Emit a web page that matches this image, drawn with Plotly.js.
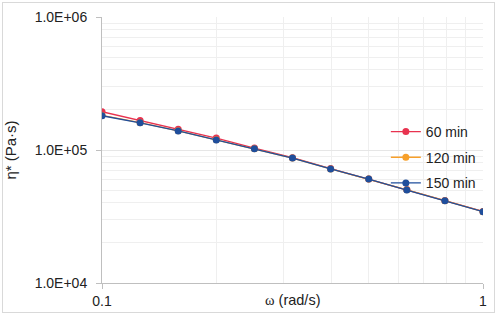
<!DOCTYPE html>
<html><head><meta charset="utf-8">
<script src="https://cdn.plot.ly/plotly-3.0.1.min.js"></script>
<style>html,body{margin:0;padding:0;background:#fff}#chart{width:497px;height:316px}
#frame{position:absolute;left:2px;top:2px;width:491px;height:309px;border:1px solid #d9d9d9;pointer-events:none}</style>
</head><body>
<div id="chart"></div><div id="frame"></div>
<script>
const omega = [0.1, 0.1259, 0.1585, 0.1995, 0.2512, 0.3162, 0.3981, 0.5012, 0.631, 0.7943, 1.0];
const eta60  = [194000, 167000, 143000, 123000, 103500, 87500, 72500, 60500, 50500, 41700, 34500];
const eta120 = [182000, 160500, 139500, 119500, 102000, 87000, 72000, 60500, 50200, 41600, 34400];
const eta150 = [181000, 160000, 139000, 119000, 102000, 87000, 72000, 60500, 50000, 41600, 34400];
const seriesNames = ['60 min', '120 min', '150 min'];
const yTickVals = [1e4, 1e5, 1e6];
const yTickText = ['1.0E+04', '1.0E+05', '1.0E+06'];
const xTickVals = [0.1, 1];
const xTickText = ['0.1', '1'];

const colors = ['#e8334f', '#f7a02b', '#1f4e9c'];
const data = [eta60, eta120, eta150].map((y, i) => ({
  x: omega, y: y, name: seriesNames[i], type: 'scatter', mode: 'lines+markers',
  legendgroup: 'g' + i,
  line: {color: colors[i], width: 1.3}, marker: {color: colors[i], size: 7}
}));
const yMinor = [], xMinor = [];
for (let e = 4; e < 6; e++) for (let m = 2; m <= 9; m++) yMinor.push(m * Math.pow(10, e));
for (let m = 2; m <= 9; m++) xMinor.push(m / 10);

const layout = {
  width: 497, height: 316,
  margin: {l: 102, r: 14, t: 17, b: 33},
  paper_bgcolor: 'rgba(0,0,0,0)', plot_bgcolor: '#fff',
  font: {family: 'Liberation Sans, Arial, sans-serif', size: 13.5, color: '#222'},
  showlegend: true,
  legend: {x: 0.745, y: 0.628, xanchor: 'left', yanchor: 'top', bgcolor: 'rgba(0,0,0,0)',
    font: {size: 14, color: '#222'}, tracegroupgap: 4.5, itemwidth: 30},
  xaxis: {type: 'log', range: [-1, 0], tickmode: 'array', tickvals: xTickVals, ticktext: xTickText,
    automargin: false,
    showgrid: true, gridcolor: '#e6e6e6', gridwidth: 1,
    minor: {tickmode: 'array', tickvals: xMinor, showgrid: true, gridcolor: '#efefef', ticks: ''},
    showline: true, linecolor: '#bfbfbf', linewidth: 1, ticks: 'outside', ticklen: 5, tickcolor: '#bfbfbf',
    zeroline: false, tickfont: {size: 14}},
  yaxis: {type: 'log', range: [4, 6], tickmode: 'array', tickvals: yTickVals, ticktext: yTickText,
    automargin: false, ticklabelstandoff: 6,
    showgrid: true, gridcolor: '#e6e6e6', gridwidth: 1,
    minor: {tickmode: 'array', tickvals: yMinor, showgrid: true, gridcolor: '#efefef', ticks: ''},
    showline: true, linecolor: '#bfbfbf', linewidth: 1, ticks: 'outside', ticklen: 5, tickcolor: '#bfbfbf',
    zeroline: false, tickfont: {size: 14},
    title: {text: 'η* (Pa·s)', font: {size: 15}, standoff: 14}},
  annotations: [{xref: 'paper', yref: 'paper', x: 0.5, y: 0, yshift: -17, xanchor: 'center', yanchor: 'middle',
    showarrow: false, font: {size: 14.5},
    text: '<span style="font-family:Liberation Serif, Times New Roman, serif">ω</span> (rad/s)'}]
};
Plotly.newPlot('chart', data, layout, {displayModeBar: false, staticPlot: true});
</script>
</body></html>
